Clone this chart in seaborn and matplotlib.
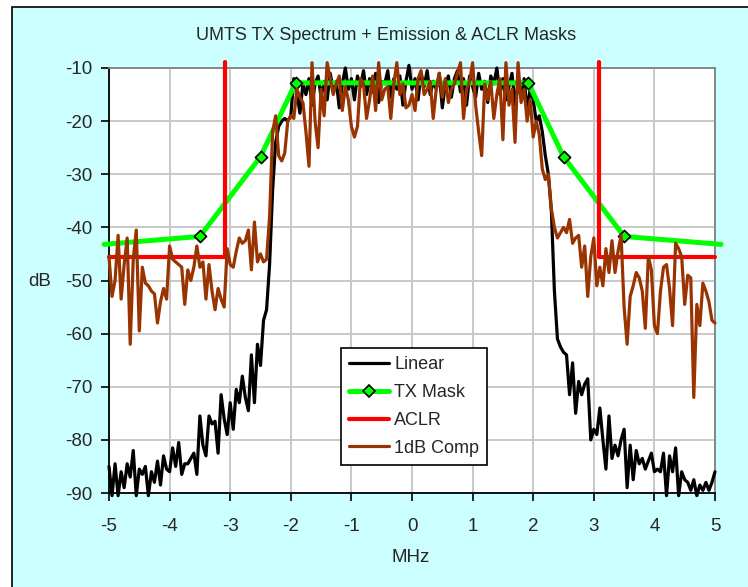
import numpy as np
import pandas as pd
import matplotlib
matplotlib.use("Agg")
import matplotlib.pyplot as plt
import seaborn as sns
from matplotlib.lines import Line2D
from matplotlib.patches import Rectangle

# Frequency offset grid (MHz), 0.05 MHz steps
freq_mhz = np.round(np.linspace(-5.0, 5.0, 201), 2)

# Linear PA output spectrum (dB)
linear_db = [
    -85, -90.5, -84.5, -90.5, -86, -89, -84.5, -87, -82, -90.5,
    -85.5, -86.5, -85, -90.5, -86, -88, -84, -88.5, -83, -85.5,
    -86, -81.5, -85, -80.5, -86.5, -84.5, -84.5, -83.5, -82.5, -86.5,
    -75.5, -81, -83, -75.5, -77, -76.5, -82.5, -71.5, -76, -79,
    -73, -78, -70.5, -73, -68, -72, -74.5, -64, -73, -62,
    -66, -57.5, -55.5, -47, -33, -24, -21, -20, -19.5, -20,
    -19, -12, -14.5, -18.5, -13, -15, -12, -17, -13, -11.5,
    -15.5, -12.5, -16, -11, -14, -12.5, -17.5, -13, -10, -14,
    -12, -16, -11.5, -13.5, -10.5, -15, -12, -14.5, -11, -16.5,
    -12.5, -13, -10.5, -15.5, -12, -14, -11.5, -17, -12.5, -9.5,
    -14, -12, -16, -11, -13.5, -10.5, -15, -12.5, -14, -11,
    -17.5, -13, -11.5, -15.5, -12, -10.5, -14.5, -12, -17, -11.5,
    -13.5, -15.5, -11, -14, -12.5, -16.5, -11.5, -13, -10, -15,
    -12, -16, -13.5, -11, -17, -13, -15.5, -12, -18, -14,
    -16, -20, -19, -22, -26.5, -30, -37, -52, -61, -62.5,
    -63.5, -64, -71.5, -65.5, -75, -69, -71.5, -69.5, -68.5, -80,
    -78, -79, -74, -80, -85.5, -75.5, -83.5, -81, -83, -80,
    -78, -89, -81, -87.5, -82, -84.5, -83.5, -85.5, -84, -82.5,
    -86, -85.5, -86, -82.5, -90.5, -83, -86, -81.5, -90.5, -86,
    -87.5, -88, -89.5, -87.5, -90.5, -88.5, -89.5, -88, -89.5, -88,
    -86,
]

# PA driven to 1 dB compression (dB)
comp_db = [
    -45.5, -53, -50, -41.5, -53.5, -47, -42, -62, -46, -40.5,
    -59.5, -47.5, -50.5, -51, -52, -52.5, -58, -54, -51.5, -53.5,
    -43.5, -46, -46.5, -47, -47.5, -54.5, -48, -50, -47.5, -43.5,
    -47.5, -46.5, -53.5, -47, -52, -55.5, -51.5, -53.5, -55, -44,
    -47, -47.5, -44.5, -42, -43, -42.5, -40.5, -48, -39, -46.5,
    -45, -46.5, -46, -38, -22, -19, -26.5, -27.5, -26, -20,
    -19, -19.5, -14, -15.5, -16.5, -22, -28.5, -9, -20, -25,
    -14, -19, -9, -12, -15, -13, -11.5, -18, -13.5, -16,
    -21, -23, -21, -12, -13, -19.5, -16, -11.5, -18, -9,
    -16, -14, -13.5, -19.5, -13, -9, -15, -13, -17.5, -17,
    -15, -18, -12, -10.5, -15, -14, -12.5, -19.5, -14, -11,
    -15.5, -12, -16.5, -14, -13, -11, -9, -19.5, -14, -12.5,
    -9, -17, -22, -26.5, -13, -16, -12.5, -19.5, -15, -12,
    -23.5, -9, -17, -14, -24, -9, -16.5, -14, -20, -16,
    -23, -20, -22.5, -29, -31, -30, -36.5, -40, -42, -41,
    -40, -41, -38.5, -43, -42, -41.5, -47.5, -43.5, -53, -45.5,
    -42, -51, -47.5, -51, -44, -48.5, -42.5, -48.5, -44.5, -41.5,
    -55, -62, -53, -51, -48.5, -49.5, -52, -59, -45.5, -48,
    -58.5, -60, -52, -47.5, -47, -51.5, -58.5, -43, -44, -45.5,
    -54.5, -49, -49.5, -72, -54.5, -58.5, -50.5, -52, -54, -57.5,
    -58,
]

# 3GPP TX spectrum emission mask
mask_mhz = [-5.08, -3.5, -2.5, -1.92, 1.92, 2.5, 3.5, 5.1]
mask_db = [-43.2, -41.7, -26.7, -12.8, -12.8, -26.7, -41.7, -43.2]

# ACLR limit lines (adjacent channel edges at +/-3.08 MHz)
aclr_left_mhz = [-5.0, -3.08, -3.08]
aclr_left_db = [-45.6, -45.6, -8.9]
aclr_right_mhz = [3.08, 3.08, 5.0]
aclr_right_db = [-8.9, -45.6, -45.6]

x_ticks = [-5, -4, -3, -2, -1, 0, 1, 2, 3, 4, 5]
y_ticks = [-90, -80, -70, -60, -50, -40, -30, -20, -10]

C_LINEAR = "#000000"
C_MASK = "#00FF00"
C_ACLR = "#FF0000"
C_COMP = "#993300"
C_BG = "#CCFFFF"

sns.set_theme(style="white")
plt.rcParams["font.family"] = ["Liberation Sans", "DejaVu Sans"]
FS = 13.5

fig = plt.figure(figsize=(7.48, 5.87), dpi=100)
fig.patch.set_facecolor("white")
fig.add_artist(Rectangle((12 / 748, -0.05), 1.2, 0.05 + (587 - 7) / 587,
                         transform=fig.transFigure, facecolor=C_BG,
                         edgecolor="black", lw=1.2, zorder=0))

ax = fig.add_axes([109 / 748, 1 - 493 / 587, 606 / 748, 425 / 587])
ax.set_facecolor("white")

spec = pd.DataFrame({"MHz": freq_mhz, "Linear": linear_db, "Comp": comp_db})
mask = pd.DataFrame({"MHz": mask_mhz, "dB": mask_db})

sns.lineplot(data=spec, x="MHz", y="Linear", ax=ax, color=C_LINEAR, lw=2.3,
             sort=False, estimator=None, clip_on=False, zorder=3)
sns.lineplot(data=mask, x="MHz", y="dB", ax=ax, color=C_MASK, lw=3.6,
             sort=False, estimator=None, clip_on=False, zorder=4)
sns.scatterplot(x=mask_mhz[1:-1], y=mask_db[1:-1], ax=ax, marker="D", s=38,
                color=C_MASK, edgecolor="black", linewidth=1.2,
                clip_on=False, zorder=5)
sns.lineplot(x=aclr_left_mhz, y=aclr_left_db, ax=ax, color=C_ACLR, lw=3.0,
             sort=False, estimator=None, clip_on=False, zorder=6)
sns.lineplot(x=aclr_right_mhz, y=aclr_right_db, ax=ax, color=C_ACLR, lw=3.0,
             sort=False, estimator=None, clip_on=False, zorder=6)
sns.lineplot(data=spec, x="MHz", y="Comp", ax=ax, color=C_COMP, lw=2.3,
             sort=False, estimator=None, clip_on=False, zorder=7)

ax.set_xlim(-5, 5)
ax.set_ylim(-90, -10)
ax.set_xticks(x_ticks)
ax.set_yticks(y_ticks)
ax.set_xticklabels([str(v) for v in x_ticks], fontsize=FS)
ax.set_yticklabels([str(v) for v in y_ticks], fontsize=FS)
ax.grid(True, color="#C8C8C8", lw=1.4)
ax.set_axisbelow(True)
ax.tick_params(axis="both", direction="out", length=6, width=1.2,
               color="black", pad=6, bottom=True, left=True)
ax.tick_params(axis="x", pad=12)
for side in ("left", "bottom"):
    ax.spines[side].set_color("black")
    ax.spines[side].set_linewidth(1.3)
for side in ("top", "right"):
    ax.spines[side].set_color("#808080")
    ax.spines[side].set_linewidth(1.3)

ax.set_xlabel("")
ax.set_ylabel("")
fig.text(40 / 748, 1 - 281 / 587, "dB", fontsize=FS, ha="center", va="center")
fig.text(411 / 748, 1 - 558 / 587, "MHz", fontsize=FS, ha="center", va="center")
fig.text(386 / 748, 1 - 36 / 587, "UMTS TX Spectrum + Emission & ACLR Masks",
         fontsize=13, ha="center", va="center")

handles = [
    Line2D([], [], color=C_LINEAR, lw=2.3),
    Line2D([], [], color=C_MASK, lw=3.6, marker="D", markersize=6,
           markerfacecolor=C_MASK, markeredgecolor="black", markeredgewidth=1.2),
    Line2D([], [], color=C_ACLR, lw=3.0),
    Line2D([], [], color=C_COMP, lw=2.3),
]
labels = ["Linear", "TX Mask", "ACLR", "1dB Comp"]
leg = ax.legend(handles, labels, loc="upper left", bbox_to_anchor=(0.383, 0.341),
                borderaxespad=0, frameon=True, fancybox=False, shadow=False,
                edgecolor="black", framealpha=1, fontsize=13,
                handlelength=2.2, handletextpad=0.3, labelspacing=0.6,
                borderpad=0.45)
leg.get_frame().set_linewidth(1.2)
leg.set_zorder(10)

fig.savefig("out.png", dpi=100, facecolor="white")
